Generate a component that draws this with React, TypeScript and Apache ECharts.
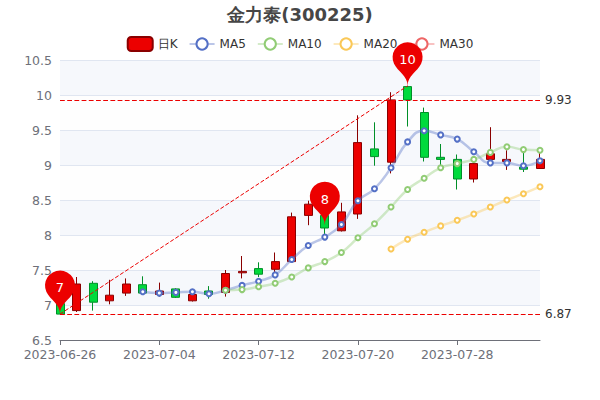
import React, { useEffect, useRef } from "react";
import * as echarts from "echarts";

const categories = [
  "2023-06-26","2023-06-27","2023-06-28","2023-06-29","2023-06-30","2023-07-03",
  "2023-07-04","2023-07-05","2023-07-06","2023-07-07","2023-07-10","2023-07-11",
  "2023-07-12","2023-07-13","2023-07-14","2023-07-17","2023-07-18","2023-07-19",
  "2023-07-20","2023-07-21","2023-07-24","2023-07-25","2023-07-26","2023-07-27",
  "2023-07-28","2023-07-31","2023-08-01","2023-08-02","2023-08-03","2023-08-04",
];
const opens = [7.02,6.92,7.31,7.06,7.17,7.29,7.15,7.23,7.06,7.20,7.18,7.46,7.52,7.51,7.62,8.28,8.28,8.06,8.30,9.23,9.04,10.12,9.75,9.11,9.08,8.80,9.08,9.05,8.97,8.95];
const closes = [6.87,7.30,7.04,7.14,7.30,7.17,7.20,7.11,7.15,7.15,7.45,7.48,7.44,7.62,8.26,8.44,8.10,8.33,9.32,9.12,9.93,9.93,9.11,9.08,8.80,9.02,9.16,9.08,8.94,9.08];
const lows = [6.87,6.90,6.92,7.01,7.13,7.17,7.12,7.10,7.05,7.09,7.12,7.38,7.40,7.46,7.62,8.14,7.98,8.05,8.23,8.99,8.88,9.55,9.05,9.00,8.65,8.75,9.03,8.93,8.90,8.95];
const highs = [7.10,7.40,7.34,7.36,7.38,7.41,7.32,7.24,7.22,7.27,7.50,7.70,7.61,7.75,8.32,8.49,8.45,8.46,9.71,9.61,10.04,10.13,9.82,9.30,9.15,9.07,9.54,9.21,9.18,9.18];
const ma5 = [null,null,null,null,null,7.19,7.17,7.18,7.19,7.16,7.21,7.28,7.34,7.43,7.65,7.85,7.97,8.15,8.49,8.66,8.96,9.33,9.49,9.43,9.37,9.19,9.03,9.03,8.99,9.06];
const ma10 = [null,null,null,null,null,null,null,null,null,null,7.21,7.22,7.26,7.31,7.40,7.53,7.62,7.75,7.96,8.16,8.40,8.65,8.81,8.96,9.02,9.08,9.18,9.26,9.22,9.21];
const ma20 = [null,null,null,null,null,null,null,null,null,null,null,null,null,null,null,null,null,null,null,null,7.80,7.94,8.04,8.13,8.21,8.30,8.40,8.50,8.59,8.69];
const ma30: (number | null)[] = categories.map(() => null);
const legendNames = ["日K", "MA5", "MA10", "MA20", "MA30"];
const pinIndexes = [0, 16, 21];
const pinValues = [6.87, 8.14, 10.13];
const pinLabels = [7, 8, 10];
const FONT = "'DejaVu Sans', sans-serif";

const maSeries = (name: string, data: (number | null)[], color: string) => ({
  name,
  type: "line",
  data,
  smooth: true,
  showSymbol: true,
  showAllSymbol: true,
  symbol: "emptyCircle",
  symbolSize: 5,
  itemStyle: { color, borderWidth: 2 },
  lineStyle: { opacity: 0.4, width: 2.5, color },
});

export default function App() {
  const ref = useRef<HTMLDivElement>(null);
  useEffect(() => {
    document.body.style.margin = "0";
    const chart = echarts.init(ref.current!, undefined, { renderer: "svg" });
    chart.setOption({
      animation: false,
      textStyle: { fontFamily: FONT },
      title: {
        text: "金力泰(300225)",
        left: "center",
        top: 0,
        textStyle: { fontSize: 18, fontWeight: "bold", color: "#464646", fontFamily: FONT },
      },
      legend: {
        data: legendNames,
        top: 31,
        itemGap: 11,
        textStyle: { color: "#333", fontSize: 12, fontFamily: FONT },
      },
      grid: { left: 60, right: 60, top: 60, bottom: 60 },
      xAxis: {
        type: "category",
        data: categories,
        boundaryGap: false,
        axisLine: { onZero: false, lineStyle: { color: "#6E7079" } },
        axisTick: { show: true, lineStyle: { color: "#6E7079" } },
        splitLine: { show: false },
        axisLabel: { interval: 5, color: "#6E7079", fontSize: 12.5, fontFamily: FONT, hideOverlap: false },
      },
      yAxis: {
        type: "value",
        min: 6.5,
        max: 10.5,
        interval: 0.5,
        axisLine: { show: false },
        axisTick: { show: false },
        splitLine: { show: true, lineStyle: { color: "#E0E6F1" } },
        splitArea: { show: true, areaStyle: { color: ["rgba(250,250,250,0.2)", "rgba(210,219,238,0.2)"] } },
        axisLabel: { color: "#6E7079", fontSize: 12.5, fontFamily: FONT },
      },
      series: [
        {
          name: "日K",
          type: "candlestick",
          data: categories.map((_, i) => [opens[i], closes[i], lows[i], highs[i]]),
          barWidth: 8.5,
          itemStyle: { color: "#ec0000", color0: "#00da3c", borderColor: "#8A0000", borderColor0: "#008F28" },
          markPoint: {
            symbol: "pin",
            symbolSize: 50,
            itemStyle: { color: "#ec0000" },
            label: { color: "#fff", fontSize: 13, fontFamily: FONT },
            data: pinIndexes.map((idx, i) => ({
              coord: [categories[idx], pinValues[i]],
              value: pinLabels[i],
            })),
          },
          markLine: {
            symbol: ["none", "none"],
            silent: true,
            lineStyle: { color: "#ec0000", type: "dashed", width: 1.2 },
            label: { color: "#333", fontSize: 12, fontFamily: FONT, position: "end" },
            data: [
              [
                {
                  coord: [categories[0], pinValues[0]],
                  label: { show: false },
                  lineStyle: { width: 1, color: "#ec0000", type: "dashed" },
                },
                { coord: [categories[21], pinValues[2]], label: { show: false } },
              ],
              { type: "min", valueDim: "close" },
              { type: "max", valueDim: "close" },
            ],
          },
        },
        maSeries("MA5", ma5, "#5470c6"),
        maSeries("MA10", ma10, "#91cc75"),
        maSeries("MA20", ma20, "#fac858"),
        maSeries("MA30", ma30, "#ee6666"),
      ],
    });
    return () => chart.dispose();
  }, []);
  return <div ref={ref} style={{ width: 600, height: 400 }} />;
}
